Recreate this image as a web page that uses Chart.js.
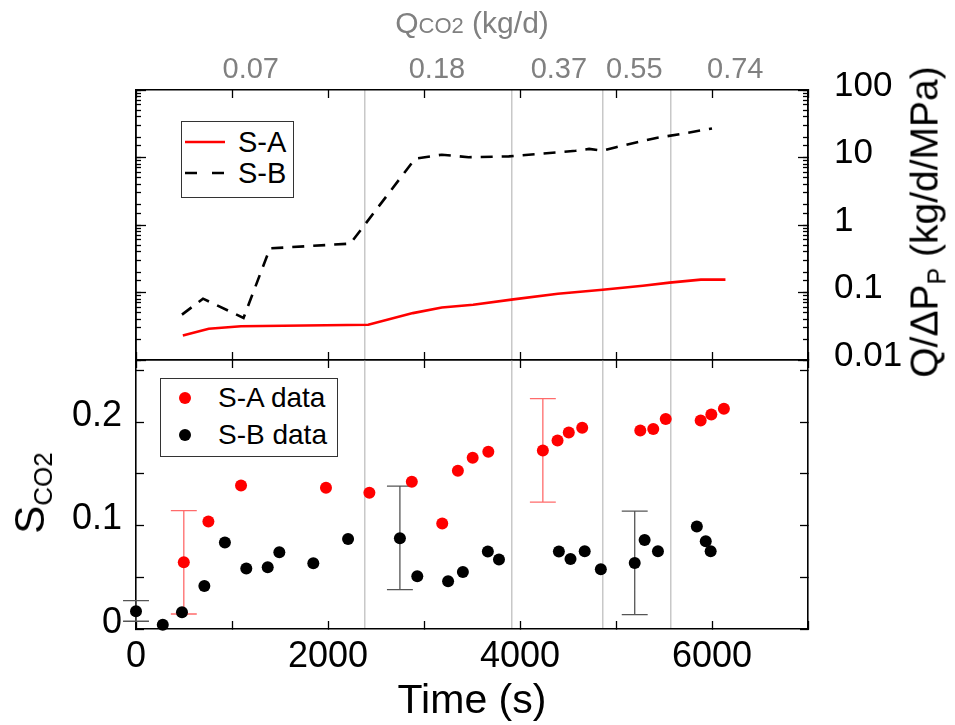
<!DOCTYPE html>
<html>
<head>
<meta charset="utf-8">
<script src="https://cdn.jsdelivr.net/npm/chart.js@4.4.0/dist/chart.umd.min.js"></script>
<style>
body { margin: 0; background: #fff; font-family: "Liberation Sans", Arial, sans-serif; }
#wrap { position: relative; width: 955px; height: 725px; overflow: hidden; }
#wrap canvas { position: absolute; left: 0; top: 0; }
.ttl { position: absolute; white-space: nowrap; line-height: 1; color: #000; }
.rot { transform: translate(-50%, -50%) rotate(-90deg); }
.sub { position: relative; top: 0.3em; }
.legend { position: absolute; box-sizing: border-box; border: 1.2px solid #333; background: #fff; }
.legend .row { position: absolute; line-height: 1; white-space: nowrap; }
.legend svg { position: absolute; }
</style>
</head>
<body>
<div id="wrap">
  <canvas id="topPanel" width="955" height="725"></canvas>
  <canvas id="botPanel" width="955" height="725"></canvas>

  <div class="ttl" style="left:472px; top:8px; transform:translateX(-50%); color:#808080; font-size:30px;">Q<span style="font-size:22px">CO2</span> (kg/d)</div>
  <div class="ttl" style="left:472px; top:679px; transform:translateX(-50%); font-size:41px;">Time (s)</div>
  <div class="ttl rot" style="left:30px; top:493px; font-size:42px;">S<span class="sub" style="font-size:26px">CO2</span></div>
  <div class="ttl rot" style="left:924px; top:222px; font-size:39px;">Q/ΔP<span class="sub" style="font-size:25px">P</span> (kg/d/MPa)</div>

  <div id="legTop" class="legend" style="left:181px; top:121px; width:113px; height:77px;"></div>
  <div id="legBot" class="legend" style="left:160px; top:378px; width:178px; height:79px;"></div>
</div>

<script>
Chart.defaults.font.family = '"Liberation Sans", Arial, sans-serif';
Chart.defaults.color = '#000';

// ---- data ----
var xMax = 7000;

// vertical lines between the CO2 rate steps (s)
var phaseEdges = [2385, 3912, 4867, 5575];
// top axis: CO2 rate for each step
var qcoPos = [1195, 3135, 4405, 5191, 6242];
var qcoLabels = ['0.07', '0.18', '0.37', '0.55', '0.74'];

// top panel: Q/dP_P (kg/d/MPa)
var saLineT = [488, 758, 1093, 2419, 2884, 3186, 3512, 3930, 4395, 4860, 5279, 5558, 5884, 6140];
var saLineQ = [0.023, 0.029, 0.0317, 0.0332, 0.0495, 0.060, 0.066, 0.079, 0.096, 0.110, 0.126, 0.140, 0.155, 0.155];
var sbLineT = [479, 698, 1120, 1395, 2233, 2907, 3186, 3465, 3884, 4581, 4720, 4860, 5000, 5419, 5698, 6000];
var sbLineQ = [0.047, 0.081, 0.042, 0.45, 0.53, 9.6, 11.0, 10.1, 10.4, 12.6, 13.4, 12.6, 14.2, 19.5, 22.6, 26.9];
var logLabels = {'-2': '0.01', '-1': '0.1', '0': '1', '1': '10', '2': '100'};

// bottom panel: S_CO2
var saTime = [498, 754, 1094, 1979, 2431, 2873, 3190, 3353, 3507, 3670, 4238, 4391, 4508, 4648, 5253, 5388, 5518, 5882, 5993, 6124];
var saS = [0.0645, 0.1039, 0.1387, 0.1365, 0.1316, 0.1423, 0.1019, 0.1529, 0.1655, 0.1713, 0.1726, 0.1823, 0.190, 0.1945, 0.1919, 0.1932, 0.2029, 0.2016, 0.2074, 0.2129];
var sbTime = [0, 279, 479, 712, 926, 1149, 1372, 1493, 1847, 2209, 2749, 2930, 3251, 3405, 3665, 3781, 4405, 4526, 4674, 4842, 5195, 5298, 5437, 5842, 5935, 5986];
var sbS = [0.0171, 0.0040, 0.0161, 0.0416, 0.0835, 0.0584, 0.0597, 0.0742, 0.0635, 0.0871, 0.0877, 0.051, 0.0461, 0.0552, 0.0748, 0.0671, 0.0748, 0.0677, 0.0752, 0.0577, 0.0639, 0.0861, 0.0752, 0.099, 0.0848, 0.0752];

// error bars
var saErrT = [498, 4238];
var saErrLo = [0.0145, 0.1226];
var saErrHi = [0.1145, 0.2226];
var sbErrT = [0, 2749, 5195];
var sbErrLo = [0.0075, 0.038, 0.0139];
var sbErrHi = [0.0274, 0.138, 0.1139];
var capHalf = 135; // s

// ---- helpers ----
var FRAME = '#000';
function pts(xs, ys) {
    return xs.map(function(x, i) { return {x: x, y: ys[i]}; });
}
function errPts(xs, lo, hi) {
    var out = [];
    xs.forEach(function(x, i) {
        out.push({x: x, y: lo[i]}, {x: x, y: hi[i]}, {x: x, y: null});
        out.push({x: x - capHalf, y: lo[i]}, {x: x + capHalf, y: lo[i]}, {x: x, y: null});
        out.push({x: x - capHalf, y: hi[i]}, {x: x + capHalf, y: hi[i]}, {x: x, y: null});
    });
    return out;
}
function isPow10(v) {
    var l = Math.log10(v);
    return Math.abs(l - Math.round(l)) < 1e-6;
}
function fixH(h) { return function(s) { s.height = h; }; }
function fixW(w) { return function(s) { s.width = w; }; }
function inward(len) {
    return {drawOnChartArea: false, drawTicks: true, tickLength: -len, color: FRAME, tickColor: FRAME, tickWidth: 1.3};
}
var border = {color: FRAME, width: 1.6};

function xTicksAxis(pos, weight) {
    return {type: 'linear', position: pos, weight: weight, min: 0, max: xMax,
        ticks: {display: false, stepSize: 1000},
        grid: inward(8), border: border, afterFit: fixH(0)};
}
function splitAxis() {
    return {type: 'linear', position: 'top', weight: 0, min: 0, max: xMax,
        afterBuildTicks: function(s) { s.ticks = phaseEdges.map(function(v) { return {value: v}; }); },
        ticks: {display: false},
        grid: {drawOnChartArea: true, drawTicks: false, color: '#c8c8c8', lineWidth: 1.5},
        border: {display: false}, afterFit: fixH(0)};
}
function logAxis(pos, weight, len, majorOnly, labels) {
    return {type: 'logarithmic', position: pos, weight: weight, min: 0.01, max: 100,
        ticks: labels ? {autoSkip: false, font: {size: 35}, padding: 36, labelOffset: -4,
            callback: function(v) { return isPow10(v) ? logLabels[String(Math.round(Math.log10(v)))] : ''; }}
            : {display: false},
        grid: {drawOnChartArea: false, drawTicks: true, tickLength: -len, tickWidth: 1.3,
            tickColor: function(ctx) { return (!majorOnly || (ctx.tick && isPow10(ctx.tick.value))) ? FRAME : 'rgba(0,0,0,0)'; }},
        border: border,
        afterFit: labels ? fixW(147) : fixW(0)};
}

// ---- top panel ----
var topChart = new Chart(document.getElementById('topPanel'), {
    type: 'line',
    data: {
        datasets: [
            {label: 'S-A', data: pts(saLineT, saLineQ), borderColor: '#ff0000', borderWidth: 2.6, pointRadius: 0, fill: false, tension: 0},
            {label: 'S-B', data: pts(sbLineT, sbLineQ), borderColor: '#000000', borderWidth: 2.6, borderDash: [12, 9], pointRadius: 0, fill: false, tension: 0}
        ]
    },
    options: {
        responsive: false,
        animation: false,
        layout: {padding: {left: 136, right: 0, top: 0, bottom: 365}},
        plugins: {legend: {display: false}, tooltip: {enabled: false}},
        scales: {
            x: xTicksAxis('bottom', 0),
            xTop: xTicksAxis('top', 1),
            xSplit: splitAxis(),
            xQ: {type: 'linear', position: 'top', weight: 2, min: 0, max: xMax,
                afterBuildTicks: function(s) { s.ticks = qcoPos.map(function(v) { return {value: v}; }); },
                ticks: {autoSkip: false, maxRotation: 0, color: '#808080', font: {size: 29}, padding: 3,
                    callback: function(v, i) { return qcoLabels[i]; }},
                grid: {display: false, drawTicks: false},
                border: {display: false},
                afterFit: fixH(90)},
            y: logAxis('right', 1, 10, true, true),
            yMinor: logAxis('right', 0, 5, false, false),
            yLeft: logAxis('left', 1, 10, true, false),
            yLeftMinor: logAxis('left', 0, 5, false, false)
        }
    }
});

// ---- bottom panel ----
var botChart = new Chart(document.getElementById('botPanel'), {
    type: 'line',
    data: {
        datasets: [
            {label: 'S-A data', data: pts(saTime, saS), showLine: false, pointRadius: 6, pointHoverRadius: 6,
                pointBackgroundColor: '#ff0000', pointBorderWidth: 0, borderColor: '#ff0000', clip: false},
            {label: 'S-B data', data: pts(sbTime, sbS), showLine: false, pointRadius: 6, pointHoverRadius: 6,
                pointBackgroundColor: '#000000', pointBorderWidth: 0, borderColor: '#000000', clip: false},
            {data: errPts(saErrT, saErrLo, saErrHi), borderColor: '#ff6b6b', borderWidth: 1.3, pointRadius: 0, spanGaps: false, clip: false},
            {data: errPts(sbErrT, sbErrLo, sbErrHi), borderColor: '#555555', borderWidth: 1.3, pointRadius: 0, spanGaps: false, clip: false}
        ]
    },
    options: {
        responsive: false,
        animation: false,
        layout: {padding: {left: 0, right: 147, top: 360, bottom: 0}},
        plugins: {legend: {display: false}, tooltip: {enabled: false}},
        scales: {
            x: {type: 'linear', position: 'bottom', min: 0, max: xMax,
                ticks: {stepSize: 1000, autoSkip: false, maxRotation: 0, font: {size: 36}, padding: 14,
                    callback: function(v) { return v % 2000 === 0 ? String(v) : ''; }},
                grid: inward(8), border: border, afterFit: fixH(96)},
            xTop: xTicksAxis('top', 1),
            xSplit: splitAxis(),
            y: {type: 'linear', position: 'left', min: 0, max: 0.26,
                ticks: {stepSize: 0.05, includeBounds: false, autoSkip: false, font: {size: 36}, padding: 22, labelOffset: -6,
                    callback: function(v) { return Math.abs(v * 10 - Math.round(v * 10)) < 1e-6 ? String(Math.round(v * 10) / 10) : ''; }},
                grid: inward(8), border: border, afterFit: fixW(136)},
            yRight: {type: 'linear', position: 'right', min: 0, max: 0.26,
                ticks: {display: false, stepSize: 0.05, includeBounds: false},
                grid: inward(8), border: border, afterFit: fixW(0)}
        }
    }
});

// ---- html legends built from the datasets ----
function makeLegend(chart, boxId, rowY, sampleX, textX, fontSize) {
    var box = document.getElementById(boxId);
    var row = 0;
    chart.data.datasets.forEach(function(ds) {
        if (!ds.label) return;
        var cy = rowY[row++];
        var svg = document.createElementNS('http://www.w3.org/2000/svg', 'svg');
        svg.setAttribute('width', 44);
        svg.setAttribute('height', 14);
        svg.style.left = sampleX + 'px';
        svg.style.top = (cy - 7) + 'px';
        if (ds.showLine === false) {
            var c = document.createElementNS('http://www.w3.org/2000/svg', 'circle');
            c.setAttribute('cx', 21); c.setAttribute('cy', 7); c.setAttribute('r', ds.pointRadius);
            c.setAttribute('fill', ds.pointBackgroundColor);
            svg.appendChild(c);
        } else {
            var l = document.createElementNS('http://www.w3.org/2000/svg', 'line');
            l.setAttribute('x1', 0); l.setAttribute('x2', 40); l.setAttribute('y1', 7); l.setAttribute('y2', 7);
            l.setAttribute('stroke', ds.borderColor); l.setAttribute('stroke-width', ds.borderWidth);
            if (ds.borderDash) l.setAttribute('stroke-dasharray', '12 15');
            svg.appendChild(l);
        }
        box.appendChild(svg);
        var t = document.createElement('div');
        t.className = 'row';
        t.style.left = textX + 'px';
        t.style.top = (cy - fontSize / 2) + 'px';
        t.style.fontSize = fontSize + 'px';
        t.textContent = ds.label;
        box.appendChild(t);
    });
}
makeLegend(topChart, 'legTop', [20, 51], 3, 56, 29);
makeLegend(botChart, 'legBot', [19, 56], 3, 57, 28);
</script>
</body>
</html>
